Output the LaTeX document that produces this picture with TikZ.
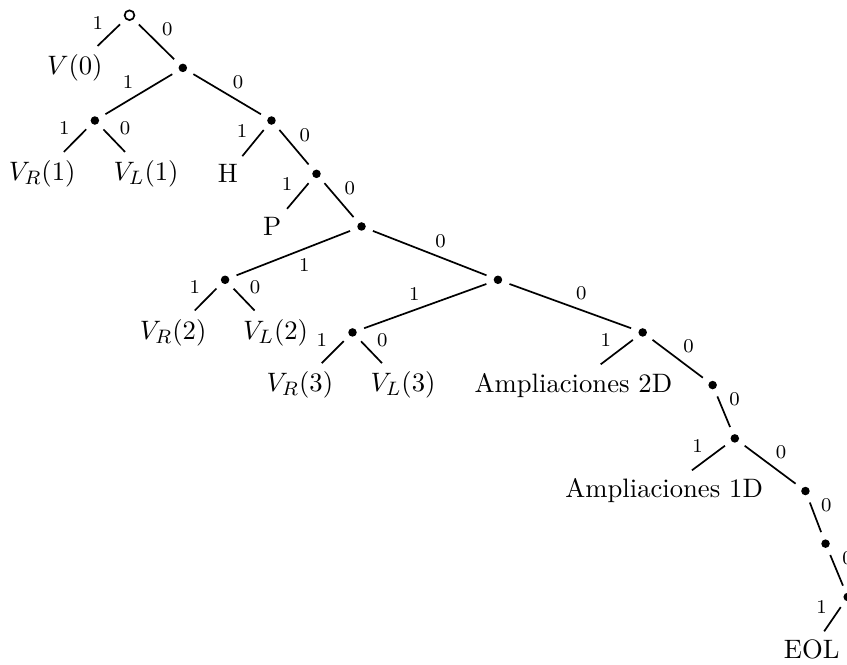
\documentclass[tikz,border=0pt,11pt]{standalone}
\tikzset{
  tr/edge/.style={draw=black, line width=0.7pt},
  tr/dot/.style={circle, fill=black, inner sep=0pt, minimum size=3.5pt, outer sep=3.3pt},
  tr/root/.style={circle, draw=black, line width=0.7pt, fill=white, inner sep=0pt, minimum size=4pt, outer sep=3.4pt},
  tr/leaf/.style={inner sep=3.33pt},
  tr/bit/.style={font=\scriptsize, inner sep=2pt, midway, auto},
  tr/bitl/.style={tr/bit, swap},
  tr/bitr/.style={tr/bit}
}
\begin{document}
\begin{tikzpicture}[x=1cm,y=1cm]
  \useasboundingbox (0,0) rectangle (12.23,9.60);
  % inner nodes
  \node[tr/root] (root) at (1.87,9.38) {};
  \node[tr/dot] (n1) at (2.64,8.62) {};
  \node[tr/dot] (n2) at (1.37,7.86) {};
  \node[tr/dot] (n3) at (3.92,7.86) {};
  \node[tr/dot] (n4) at (4.57,7.09) {};
  \node[tr/dot] (n5) at (5.22,6.33) {};
  \node[tr/dot] (n6) at (3.25,5.56) {};
  \node[tr/dot] (n7) at (7.19,5.56) {};
  \node[tr/dot] (n8) at (5.09,4.80) {};
  \node[tr/dot] (n9) at (9.28,4.80) {};
  \node[tr/dot] (n10) at (10.29,4.04) {};
  \node[tr/dot] (n11) at (10.61,3.27) {};
  \node[tr/dot] (n12) at (11.63,2.51) {};
  \node[tr/dot] (n13) at (11.92,1.75) {};
  \node[tr/dot] (n14) at (12.24,0.98) {};
  % leaves
  \node[tr/leaf] (v0) at (1.08,8.62) {$V(0)$};
  \node[tr/leaf] (vr1) at (0.61,7.09) {$V_R(1)$};
  \node[tr/leaf] (vl1) at (2.11,7.09) {$V_L(1)$};
  \node[tr/leaf] (h) at (3.29,7.09) {H};
  \node[tr/leaf] (p) at (3.93,6.33) {P};
  \node[tr/leaf] (vr2) at (2.50,4.80) {$V_R(2)$};
  \node[tr/leaf] (vl2) at (3.98,4.80) {$V_L(2)$};
  \node[tr/leaf] (vr3) at (4.33,4.04) {$V_R(3)$};
  \node[tr/leaf] (vl3) at (5.82,4.04) {$V_L(3)$};
  \node[tr/leaf] (amp2) at (8.28,4.04) {Ampliaciones 2D};
  \node[tr/leaf] (amp1) at (9.59,2.51) {Ampliaciones 1D};
  \node[tr/leaf] (eol) at (11.72,0.22) {EOL};
  % branches
  \draw[tr/edge] (root) -- node[tr/bitl] (b-v0) {1} (v0);
  \draw[tr/edge] (root) -- node[tr/bitr] (b-n1) {0} (n1);
  \draw[tr/edge] (n1) -- node[tr/bitl] (b-n2) {1} (n2);
  \draw[tr/edge] (n1) -- node[tr/bitr] (b-n3) {0} (n3);
  \draw[tr/edge] (n2) -- node[tr/bitl] (b-vr1) {1} (vr1);
  \draw[tr/edge] (n2) -- node[tr/bitr] (b-vl1) {0} (vl1);
  \draw[tr/edge] (n3) -- node[tr/bitl] (b-h) {1} (h);
  \draw[tr/edge] (n3) -- node[tr/bitr] (b-n4) {0} (n4);
  \draw[tr/edge] (n4) -- node[tr/bitl] (b-p) {1} (p);
  \draw[tr/edge] (n4) -- node[tr/bitr] (b-n5) {0} (n5);
  \draw[tr/edge] (n5) -- node[tr/bitr] (b-n6) {1} (n6);
  \draw[tr/edge] (n5) -- node[tr/bitr] (b-n7) {0} (n7);
  \draw[tr/edge] (n6) -- node[tr/bitl] (b-vr2) {1} (vr2);
  \draw[tr/edge] (n6) -- node[tr/bitr] (b-vl2) {0} (vl2);
  \draw[tr/edge] (n7) -- node[tr/bitl] (b-n8) {1} (n8);
  \draw[tr/edge] (n7) -- node[tr/bitr] (b-n9) {0} (n9);
  \draw[tr/edge] (n8) -- node[tr/bitl] (b-vr3) {1} (vr3);
  \draw[tr/edge] (n8) -- node[tr/bitr] (b-vl3) {0} (vl3);
  \draw[tr/edge] (n9) -- node[tr/bitl] (b-amp2) {1} (amp2);
  \draw[tr/edge] (n9) -- node[tr/bitr] (b-n10) {0} (n10);
  \draw[tr/edge] (n10) -- node[tr/bitr] (b-n11) {0} (n11);
  \draw[tr/edge] (n11) -- node[tr/bitl] (b-amp1) {1} (amp1);
  \draw[tr/edge] (n11) -- node[tr/bitr] (b-n12) {0} (n12);
  \draw[tr/edge] (n12) -- node[tr/bitr] (b-n13) {0} (n13);
  \draw[tr/edge] (n13) -- node[tr/bitr] (b-n14) {0} (n14);
  \draw[tr/edge] (n14) -- node[tr/bitl] (b-eol) {1} (eol);
\end{tikzpicture}
\end{document}
